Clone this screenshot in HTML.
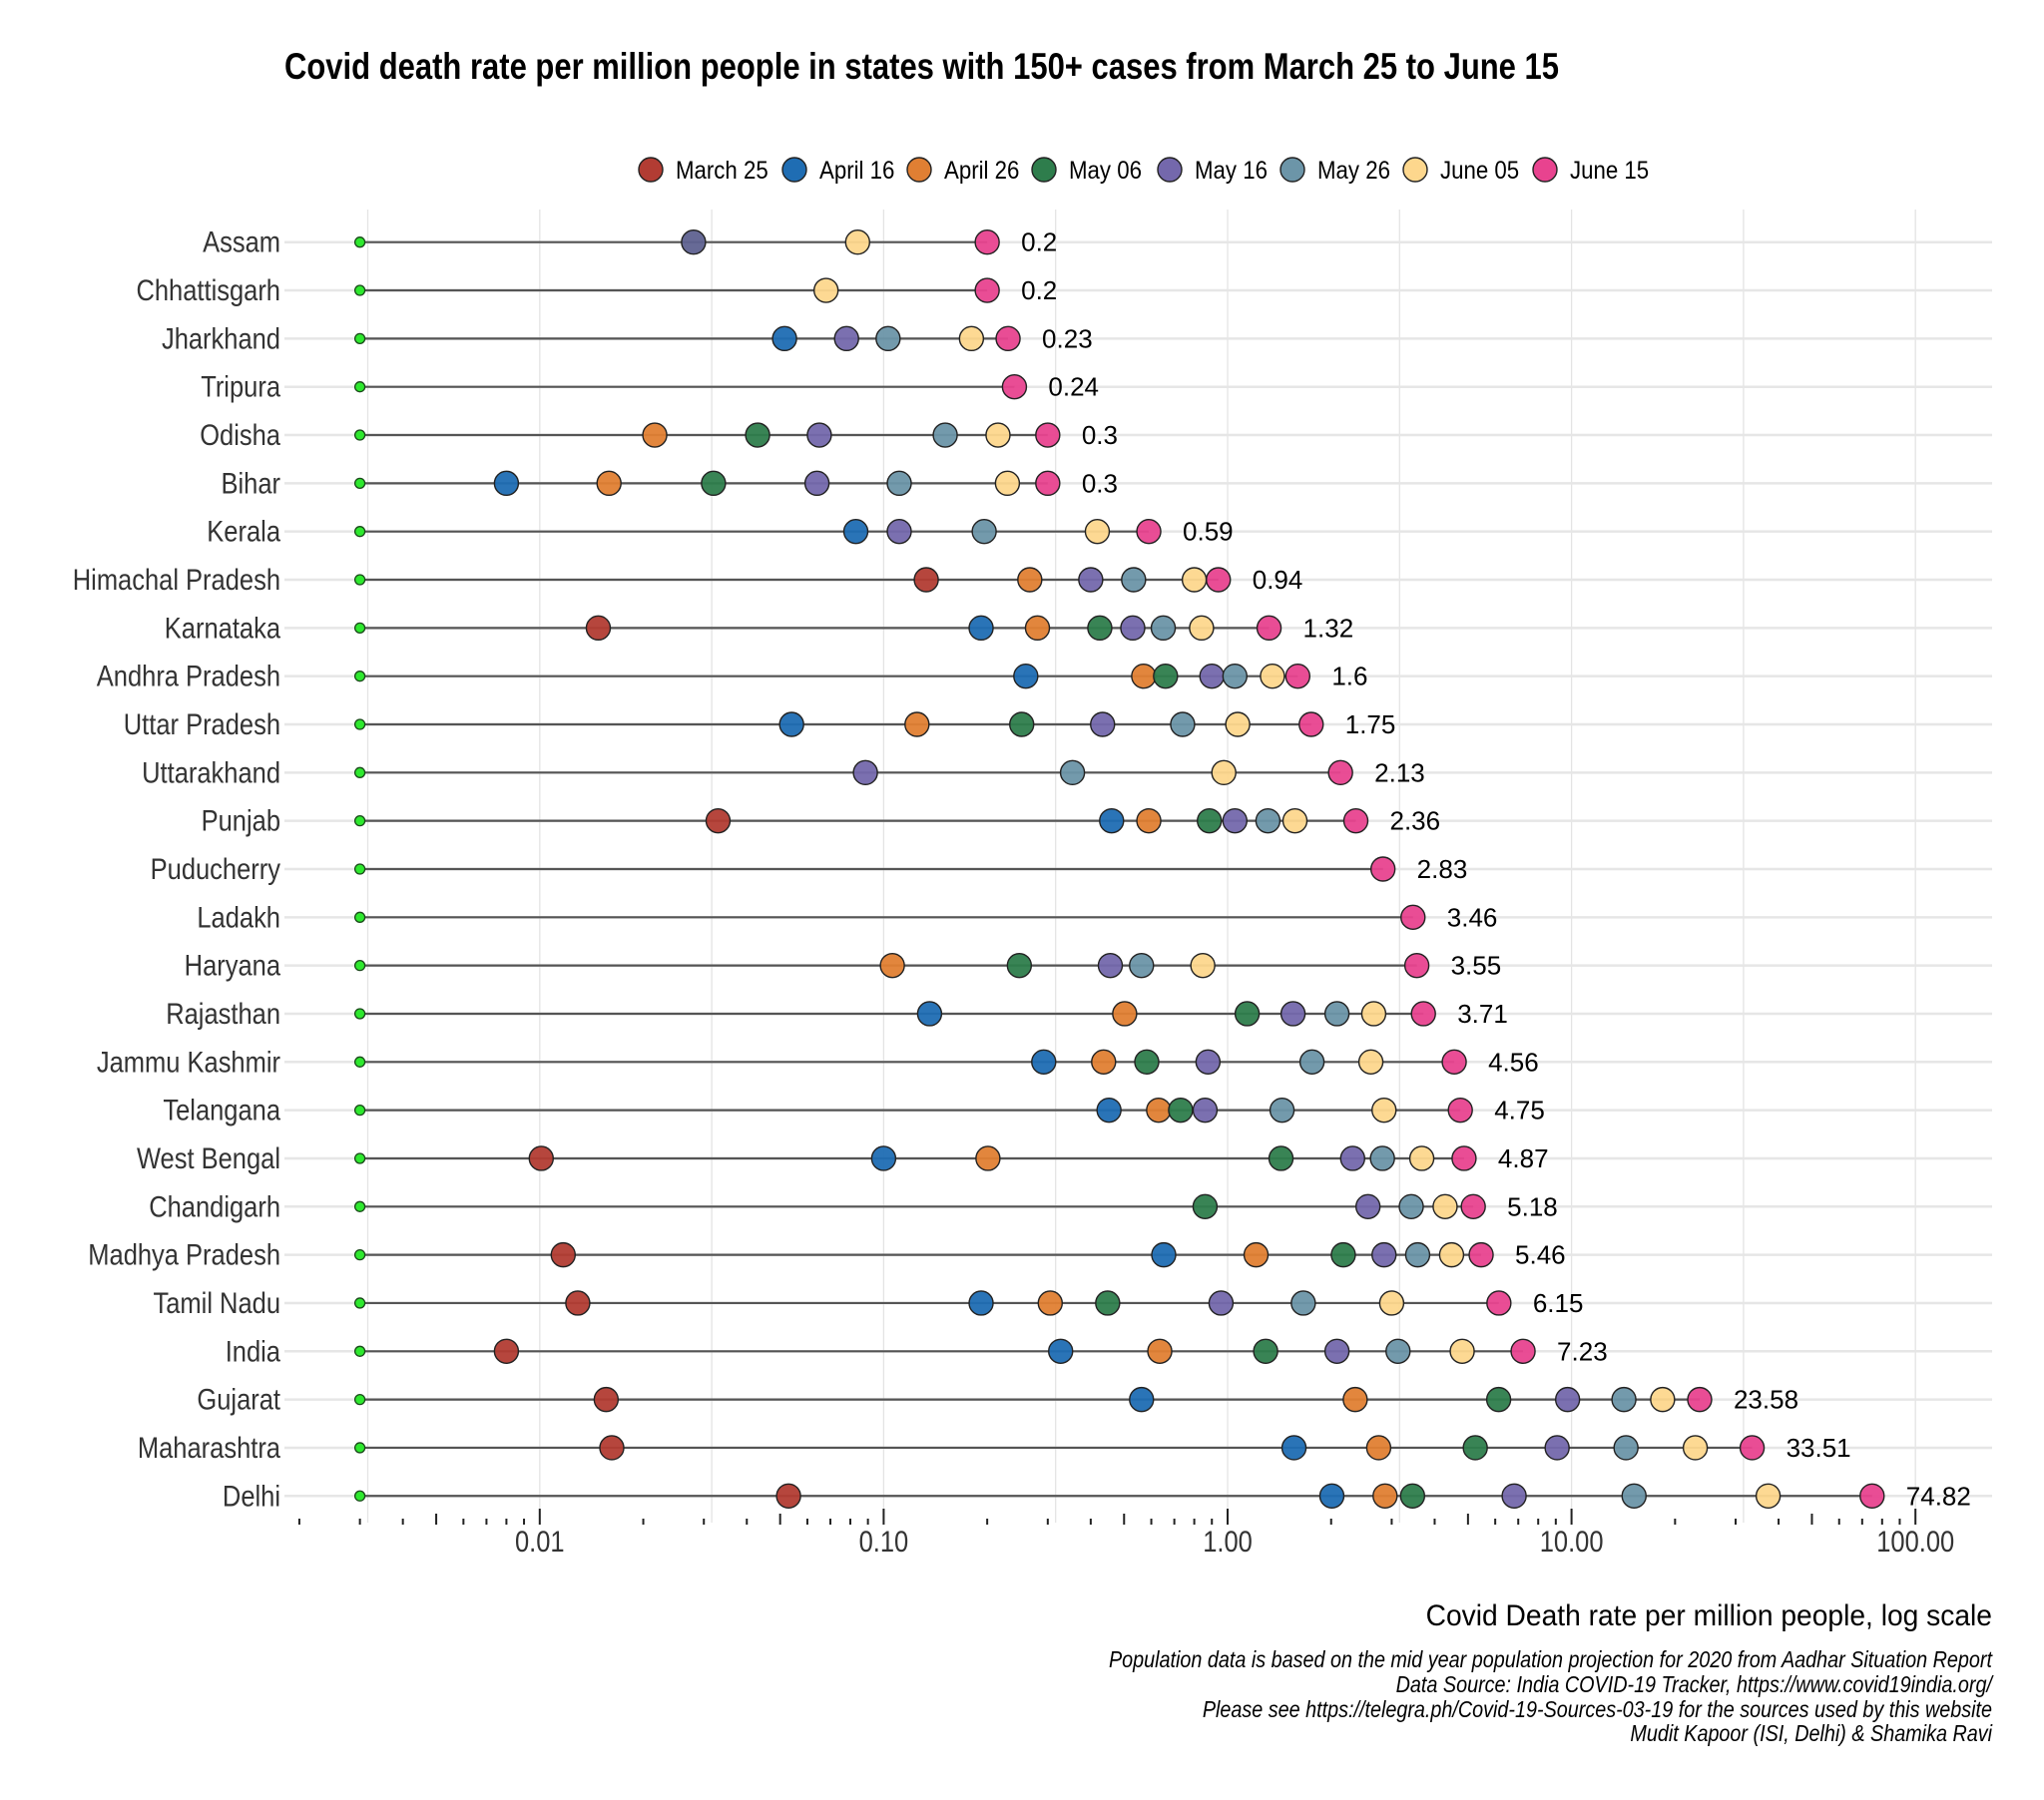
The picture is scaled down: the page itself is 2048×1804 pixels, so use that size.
<!DOCTYPE html>
<html><head><meta charset="utf-8"><style>
html,body{margin:0;padding:0;background:#fff;}
svg{display:block;}
text{font-family:"Liberation Sans",Arial,sans-serif;}
</style></head><body>
<svg id="chart" xmlns="http://www.w3.org/2000/svg" width="2048" height="1804" viewBox="0 0 2048 1804">
<rect width="2048" height="1804" fill="#fff"/>
<text x="285" y="79" font-size="37" font-weight="bold" fill="#000" textLength="1277" lengthAdjust="spacingAndGlyphs">Covid death rate per million people in states with 150+ cases from March 25 to June 15</text>
<g id="legend"></g>
<g id="grid"></g>
<g id="rows"></g>
<g id="axis"></g>
<text x="1996" y="1629" font-size="30" text-anchor="end" fill="#000" transform="translate(1996,0) scale(0.94,1) translate(-1996,0)">Covid Death rate per million people, log scale</text>
<g font-size="23" font-style="italic" text-anchor="end" fill="#000" transform="translate(1996,0) scale(0.86,1) translate(-1996,0)">
<text x="1996" y="1671">Population data is based on the mid year population projection for 2020 from Aadhar Situation Report</text>
<text x="1996" y="1696">Data Source: India COVID-19 Tracker, https://www.covid19india.org/</text>
<text x="1996" y="1721">Please see https://telegra.ph/Covid-19-Sources-03-19 for the sources used by this website</text>
<text x="1996" y="1745">Mudit Kapoor (ISI, Delhi) &amp; Shamika Ravi</text>
</g>
</svg>
<script>
const states = ["Assam","Chhattisgarh","Jharkhand","Tripura","Odisha","Bihar","Kerala","Himachal Pradesh","Karnataka","Andhra Pradesh","Uttar Pradesh","Uttarakhand","Punjab","Puducherry","Ladakh","Haryana","Rajasthan","Jammu Kashmir","Telangana","West Bengal","Chandigarh","Madhya Pradesh","Tamil Nadu","India","Gujarat","Maharashtra","Delhi"];
const dates = ["March 25","April 16","April 26","May 06","May 16","May 26","June 05","June 15"];
const march25 = [null,null,null,null,null,null,null,0.133,0.0148,null,null,null,0.033,null,null,null,null,null,null,0.0101,null,0.0117,0.0129,0.008,0.0156,0.0162,0.0529];
const april16 = [null,null,0.0515,null,null,0.008,0.083,null,0.192,0.259,0.054,null,0.46,null,null,null,0.136,0.292,0.452,0.1,null,0.652,0.192,0.327,0.562,1.56,2.01];
const april26 = [null,null,null,null,0.0216,0.0159,null,0.266,0.28,0.57,0.125,null,0.59,null,null,0.106,0.502,0.436,0.63,0.201,null,1.21,0.305,0.635,2.35,2.75,2.87];
const may06 = [null,null,null,null,0.043,0.032,null,null,0.425,0.66,0.252,null,0.885,null,null,0.248,1.14,0.582,0.73,1.43,0.86,2.17,0.448,1.29,6.14,5.25,3.45];
const may16 = [0.028,null,0.078,null,0.065,0.064,0.111,0.40,0.53,0.90,0.433,0.0885,1.05,null,null,0.456,1.55,0.877,0.86,2.31,2.56,2.85,0.957,2.08,9.74,9.08,6.81];
const may26 = [null,null,0.103,null,0.151,0.111,0.196,0.533,0.65,1.05,0.74,0.354,1.31,null,null,0.562,2.08,1.76,1.44,2.82,3.42,3.57,1.66,3.13,14.2,14.4,15.2];
const june05 = [0.084,0.068,0.18,null,0.215,0.229,0.418,0.80,0.84,1.35,1.07,0.975,1.57,null,null,0.847,2.66,2.61,2.85,3.67,4.29,4.48,3.0,4.81,18.4,22.9,37.3];
const june15 = [0.2,0.2,0.23,0.24,0.3,0.3,0.59,0.94,1.32,1.6,1.75,2.13,2.36,2.83,3.46,3.55,3.71,4.56,4.75,4.87,5.18,5.46,6.15,7.23,23.58,33.51,74.82];
const valueLabels = ["0.2","0.2","0.23","0.24","0.3","0.3","0.59","0.94","1.32","1.6","1.75","2.13","2.36","2.83","3.46","3.55","3.71","4.56","4.75","4.87","5.18","5.46","6.15","7.23","23.58","33.51","74.82"];
const tickValues = [0.01,0.1,1,10,100];
const tickLabels = ["0.01","0.10","1.00","10.00","100.00"];
const startValue = 0.003;

const series = [march25,april16,april26,may06,may16,may26,june05,june15];
const colors = ["#b23c33","#1f6db3","#e07f33","#2e7d4c","#7468ac","#6c95a8","#fdd78d","#e8438f"];
const NS = "http://www.w3.org/2000/svg";
const X0 = 1230, DEC = 344.6, PL = 285, PR = 1996;
const Y0 = 242.7, DY = 48.33;
function x(v){ return X0 + DEC*Math.log10(v); }
function y(i){ return Y0 + DY*i; }
function mk(tag, attrs, parent){
  const e = document.createElementNS(NS, tag);
  for (const k in attrs) e.setAttribute(k, attrs[k]);
  parent.appendChild(e); return e;
}
const grid = document.getElementById('grid');
const rows = document.getElementById('rows');
const axis = document.getElementById('axis');
const legend = document.getElementById('legend');

for (let p = -2.5; p <= 2.01; p += 0.5) {
  const gx = x(Math.pow(10,p));
  const l = mk('line',{x1:gx,x2:gx,y1:210,y2:1526,stroke:"#e4e4e4","stroke-width":1.3},grid);
  
  
}
states.forEach((s,i)=>{
  const yy = y(i);
  const g = mk('line',{x1:PL,x2:PR,y1:yy,y2:yy,stroke:"#e6e6e6","stroke-width":2.5},grid);
  
  
  const lab = mk('text',{x:0,y:0,"font-size":30,"text-anchor":"end",fill:"#333",transform:`translate(281,${yy+10}) scale(0.85,1)`},rows);
  lab.textContent = s;
  
  
  const ln = mk('line',{x1:x(startValue),x2:x(june15[i]),y1:yy,y2:yy,stroke:"#555","stroke-width":2.2},rows);
  
  
  const st = mk('circle',{cx:x(startValue),cy:yy,r:5,fill:"#2ee82e",stroke:"#1a4a1a","stroke-width":1.3},rows);
  
  
  series.forEach((arr,k)=>{
    if (arr[i]==null) return;
    let fill = colors[k];
    if (i===0 && k===4) fill = "#5f6290";
    const c = mk('circle',{cx:x(arr[i]),cy:yy,r:12,fill:fill,stroke:"#222","stroke-width":1.4,"fill-opacity":0.95},rows);
    
    
  });
  const vl = mk('text',{x:x(june15[i])+34,y:yy+9,"font-size":26,fill:"#000"},rows);
  vl.textContent = valueLabels[i];
  
  
});
for (let p=-3;p<=2;p++){
  for (let m=1;m<=9;m++){
    const v = m*Math.pow(10,p);
    if (v<0.0019 || v>100.1) continue;
    const tx = x(v);
    const top = m===1?1512:(m===5?1517:1522);
    const t = mk('line',{x1:tx,x2:tx,y1:top,y2:1528,stroke:"#222","stroke-width":2},axis);
    
    
  }
}
tickValues.forEach((v,i)=>{
  const t = mk('text',{x:0,y:0,"font-size":30,"text-anchor":"middle",fill:"#333",transform:`translate(${x(v)},1555) scale(0.85,1)`},axis);
  t.textContent = tickLabels[i];
  
  
});
const legX = [652,796,921,1046,1172,1295,1418,1548];
dates.forEach((d,k)=>{
  const c = mk('circle',{cx:legX[k],cy:170,r:12,fill:colors[k],stroke:"#222","stroke-width":1.4},legend);
  
  
  const t = mk('text',{x:0,y:0,"font-size":25,fill:"#000",transform:`translate(${legX[k]+25},179) scale(0.89,1)`},legend);
  t.textContent = d;
  
  
});
</script>
</body></html>
